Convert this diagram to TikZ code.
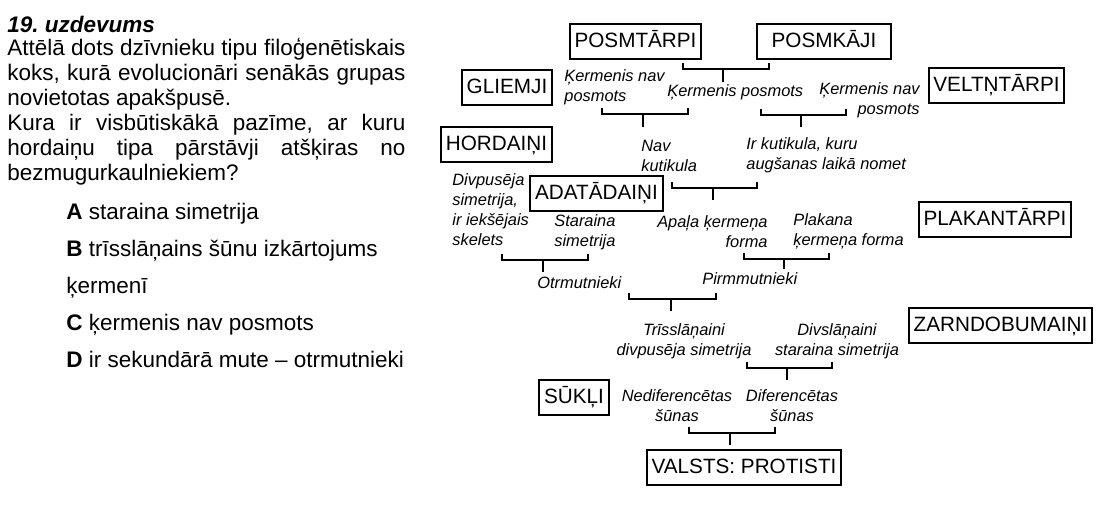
\documentclass[tikz,border=0pt]{standalone}
\usepackage{fontspec}
\setmainfont{Liberation Sans}
\frenchspacing

\begin{document}
\begin{tikzpicture}[x=0.5pt, y=-0.5pt,
  taxon/.style={draw, line width=1pt, inner xsep=2.4pt, inner ysep=0pt, minimum height=17.5pt, text height=8pt, text depth=2pt, font=\fontsize{10.35}{12}\selectfont},
  trait/.style={align=left, inner sep=0pt, font=\fontsize{8.2}{9.75}\selectfont\itshape},
  fork/.style={line width=1pt}]

  \useasboundingbox (0,0) rectangle (1099,504);

  % task text (base = last line)
  \node[anchor=base west, align=left, inner sep=0pt, font=\fontsize{11.25}{12.5}\selectfont] (task) at (7,180)
    {\textbf{\textit{19. uzdevums}}\\[-1pt]
     \hbox to 199pt{Attēlā dots dzīvnieku tipu filoģenētiskais}\\
     \hbox to 199pt{koks, kurā evolucionāri senākās grupas}\\
     novietotas apakšpusē.\\
     \hbox to 199pt{Kura ir visbūtiskākā pazīme, ar kuru}\\
     \hbox to 199pt{hordaiņu tipa pārstāvji atšķiras no}\\
     bezmugurkaulniekiem?};
  \node[anchor=base west, align=left, inner sep=0pt, font=\fontsize{11.25}{18.5}\selectfont] (answers) at (66,367)
    {\textbf{A} staraina simetrija\\
     \textbf{B} trīsslāņains šūnu izkārtojums\\
     ķermenī\\
     \textbf{C} ķermenis nav posmots\\
     \textbf{D} ir sekundārā mute – otrmutnieki};

  % animal phyla
  \node[taxon] (posmtarpi) at (635.5,41.5) {POSMTĀRPI};
  \node[taxon, minimum width=67pt] (posmkaji) at (824,41.5) {POSMKĀJI};
  \node[taxon] (gliemji) at (507,87.5) {GLIEMJI};
  \node[taxon] (veltntarpi) at (996.5,85) {VELTŅTĀRPI};
  \node[taxon] (hordaini) at (496.5,144.5) {HORDAIŅI};
  \node[taxon] (adatadaini) at (596.5,193) {ADATĀDAIŅI};
  \node[taxon] (plakantarpi) at (995,219.5) {PLAKANTĀRPI};
  \node[taxon] (zarndobumaini) at (1000.5,325.5) {ZARNDOBUMAIŅI};
  \node[taxon] (sukli) at (574,397.5) {SŪKĻI};
  \node[taxon] (protisti) at (744,467.5) {VALSTS: PROTISTI};

  % traits (base = last line)
  \node[trait, anchor=base west] (t1) at (564,101) {Ķermenis nav\\posmots};
  \node[trait, anchor=base west] (t2) at (667,96) {Ķermenis posmots};
  \node[trait, anchor=base east, align=right] (t3) at (920,114) {Ķermenis nav\\posmots};
  \node[trait, anchor=base west] (t4) at (641,171) {Nav\\kutikula};
  \node[trait, anchor=base west] (t5) at (746,169) {Ir kutikula, kuru\\augšanas laikā nomet};
  \node[trait, anchor=base west, font=\fontsize{8.2}{10}\selectfont\itshape] (t6) at (452,245) {Divpusēja\\simetrija,\\ir iekšējais\\skelets};
  \node[trait, anchor=base west] (t7) at (554,246) {Staraina\\simetrija};
  \node[trait, anchor=base east, align=right] (t8) at (768,247) {Apaļa ķermeņa\\forma};
  \node[trait, anchor=base west] (t9) at (793,245) {Plakana\\ķermeņa forma};
  \node[trait, anchor=base west] (t10) at (537,288) {Otrmutnieki};
  \node[trait, anchor=base west] (t11) at (702,284) {Pirmmutnieki};
  \node[trait, anchor=base, align=center] (t12) at (684,355) {Trīsslāņaini\\divpusēja simetrija};
  \node[trait, anchor=base, align=center] (t13) at (837,355) {Divslāņaini\\staraina simetrija};
  \node[trait, anchor=base, align=center] (t14) at (677,421) {Nediferencētas\\šūnas};
  \node[trait, anchor=base, align=center] (t15) at (792,421) {Diferencētas\\šūnas};

  % branching brackets
  \foreach \xa/\xb/\yt/\xs/\ye in {683/769/63/723/82, 602/688/108/643/127, 761/846/109/801/127,
      672/757/182/713/200, 502/588/254/543/272, 744/829/253/784/269, 629/716/293/671/311,
      747/832/362/787/380, 689/775/427/730/445}
    \draw[fork] (\xa,\yt) -- (\xa,\yt+6) -- (\xb,\yt+6) -- (\xb,\yt) (\xs,\yt+6) -- (\xs,\ye);

\end{tikzpicture}
\end{document}
